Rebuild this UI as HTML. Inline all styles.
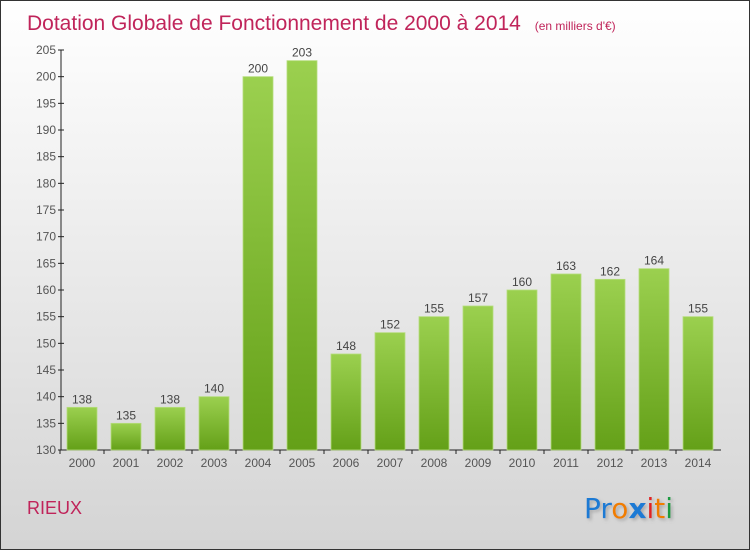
<!DOCTYPE html>
<html><head><meta charset="utf-8"><style>
body{margin:0;}
#c{position:relative;width:748px;height:548px;border:1px solid #333;background:linear-gradient(#ffffff,#d4d4d4);overflow:hidden;font-family:"Liberation Sans",sans-serif;}
</style></head><body>
<div id="c">
<svg id="s" width="748" height="548" xmlns="http://www.w3.org/2000/svg">
<defs><linearGradient id="g" x1="0" y1="0" x2="0" y2="1"><stop offset="0" stop-color="#9bd04f"/><stop offset="1" stop-color="#64a018"/></linearGradient>
<filter id="sh"><feDropShadow dx="2" dy="2" stdDeviation="1.5" flood-color="#888" flood-opacity="0.6"/></filter></defs>
<text x="26" y="29" font-size="21" fill="#c0245a">Dotation Globale de Fonctionnement de 2000 à 2014 <tspan font-size="12" dx="8">(en milliers d'€)</tspan></text>
<text x="26" y="513" font-size="18" fill="#c0245a">RIEUX</text>
<g font-size="28" font-family="'DejaVu Sans',sans-serif" filter="url(#sh)">
<text x="583" y="517"><tspan fill="#1a7ad4">Pr</tspan><tspan fill="#f07d00">o</tspan><tspan fill="#1a7ad4" font-weight="bold">x</tspan><tspan fill="#e02020">i</tspan><tspan fill="#f07d00">t</tspan><tspan fill="#1a9a40">i</tspan></text></g>
<g id="ax"></g><g id="bars"></g>
</svg></div>
<script>
const years=["2000","2001","2002","2003","2004","2005","2006","2007","2008","2009","2010","2011","2012","2013","2014"];
const values=[138,135,138,140,200,203,148,152,155,157,160,163,162,164,155];
const ticks=[130,135,140,145,150,155,160,165,170,175,180,185,190,195,200,205];
const NS="http://www.w3.org/2000/svg";
const y=v=>449-(v-130)*400/75;
const x=i=>81+i*44;
const ax=document.getElementById('ax'),bars=document.getElementById('bars');
function mk(t,a,p){const e=document.createElementNS(NS,t);for(const k in a)e.setAttribute(k,a[k]);p.appendChild(e);return e;}
let l=mk('line',{x1:60,y1:y(205),x2:60,y2:449,stroke:'#222'},ax);


l=mk('line',{x1:60,y1:449,x2:720,y2:449,stroke:'#222'},ax);


ticks.forEach(t=>{
 mk('line',{x1:57,y1:y(t),x2:63,y2:y(t),stroke:'#222'},ax);
 const e=mk('text',{x:55,y:y(t)+4,'text-anchor':'end','font-size':12,fill:'#555'},ax);e.textContent=t;
 
 
});
years.forEach((yr,i)=>{
 const v=values[i];
 const r=mk('rect',{x:x(i)-15,y:y(v),width:30,height:449-y(v),fill:'url(#g)',stroke:'#b5dc7c','stroke-width':0.8},bars);
 
 
 const t=mk('text',{x:x(i),y:y(v)-4,'text-anchor':'middle','font-size':12,fill:'#444'},bars);t.textContent=v;
 
 
 const xl=mk('text',{x:x(i),y:466,'text-anchor':'middle','font-size':12,fill:'#555'},ax);xl.textContent=yr;
 
 
 mk('line',{x1:x(i)-22,y1:449,x2:x(i)-22,y2:453,stroke:'#222'},ax);
});
</script>
</body></html>
